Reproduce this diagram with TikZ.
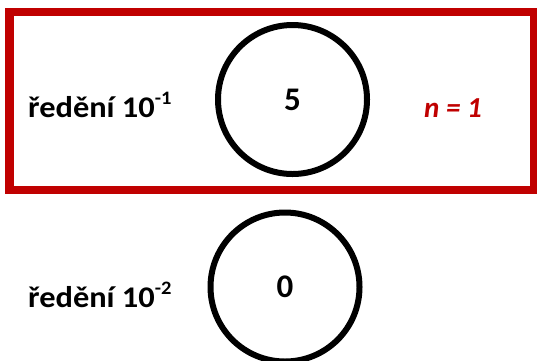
\documentclass[tikz,border=0pt]{standalone}
\usepackage{fontspec}
\setmainfont{Carlito}
\definecolor{myred}{HTML}{C00000}
\newcommand{\supx}[1]{\raisebox{0.42em}{\fontsize{19}{20}\selectfont #1}}
\newcommand{\wide}[1]{\scalebox{1.08}[1]{#1}}
\tikzset{
  lbl/.style={font=\fontsize{30}{31}\selectfont\bfseries, anchor=base west, inner sep=0pt},
  dish/.style={circle, draw=black, line width=6pt, minimum size=149pt, inner sep=0pt, font=\fontsize{33}{34}\selectfont\bfseries},
  frame/.style={draw=myred, line width=8.5pt},
}
\begin{document}
\begin{tikzpicture}[x=1pt,y=-1pt]
\useasboundingbox (0,0) rectangle (537,360);
\node[frame, minimum width=524.5pt, minimum height=178pt, inner sep=0pt] (box) at (271.75,101) {};
\node[dish] (c1) at (292.5,99.5) {5};
\node[dish] (c2) at (285,287) {0};
\node[lbl] (l1) at (28,117) {\wide{ředění 10\supx{-1}}};
\node[lbl] (l2) at (28,307) {\wide{ředění 10\supx{-2}}};
\node[lbl, anchor=base, text=myred, font=\fontsize{29}{30}\selectfont\bfseries\itshape] (n) at (453,117) {n = 1};
\end{tikzpicture}
\end{document}
